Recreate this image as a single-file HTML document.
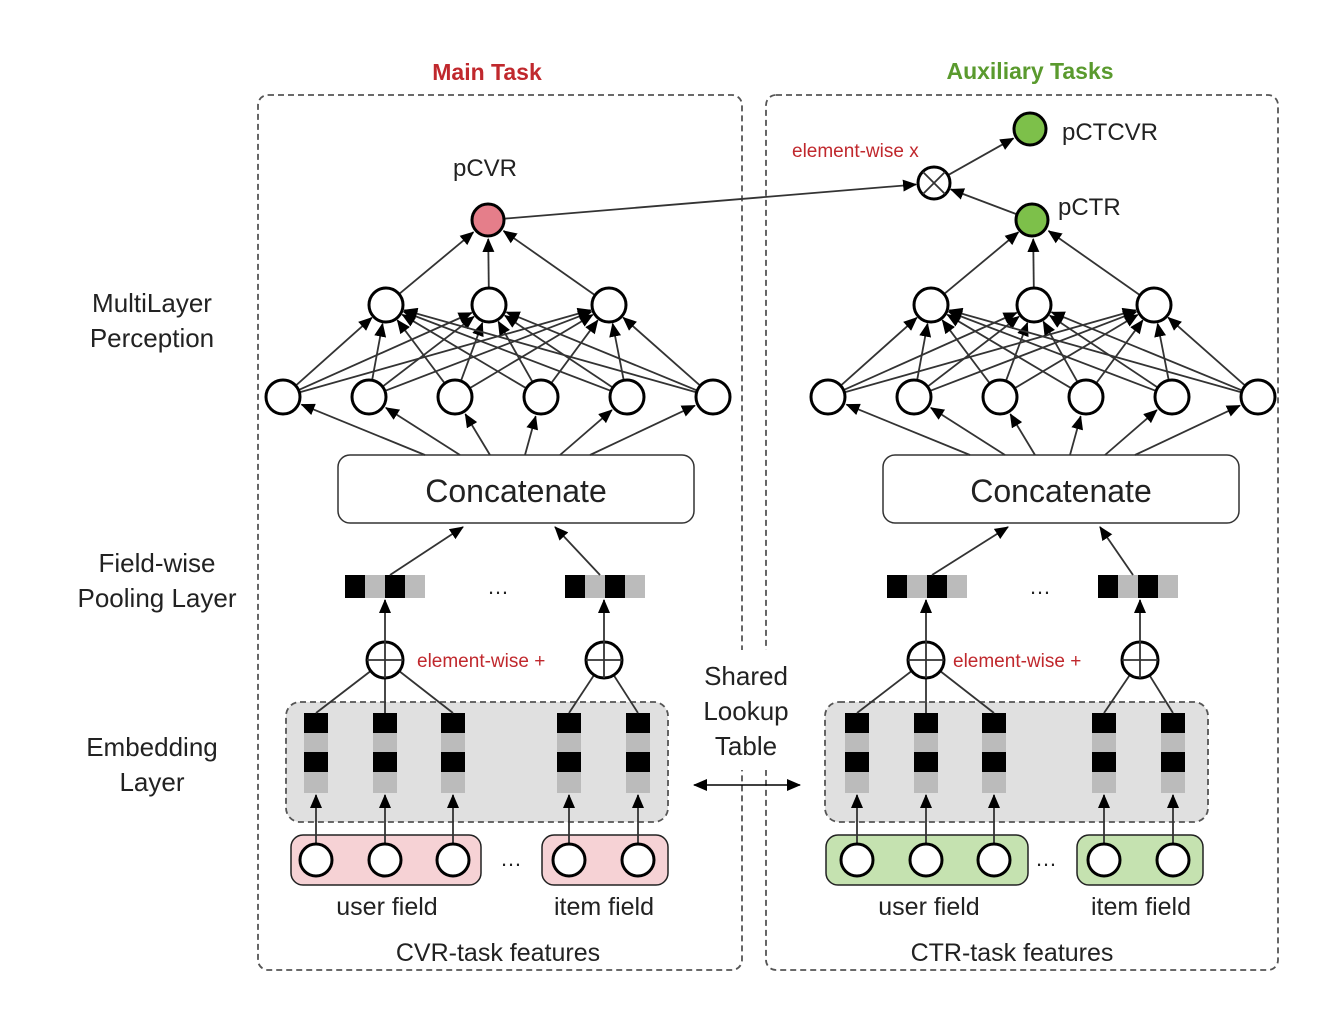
<!DOCTYPE html>
<html><head><meta charset="utf-8"><style>
html,body{margin:0;padding:0;background:#fff}
svg{display:block}
text{font-family:"Liberation Sans",sans-serif}
</style></head><body>
<svg id="s" width="1338" height="1032" viewBox="0 0 1338 1032" xmlns="http://www.w3.org/2000/svg">
<defs>
<marker id="a" markerWidth="14" markerHeight="12" refX="13" refY="6" orient="auto" markerUnits="userSpaceOnUse">
<path d="M0,0 L14,6 L0,12 z" fill="#000"/></marker>
<marker id="b" markerWidth="14" markerHeight="12" refX="1" refY="6" orient="auto" markerUnits="userSpaceOnUse">
<path d="M14,0 L0,6 L14,12 z" fill="#000"/></marker>
</defs>
<rect x="258" y="95" width="484" height="875" rx="10" fill="none" stroke="#555" stroke-width="1.8" stroke-dasharray="6,4"/>
<rect x="766" y="95" width="512" height="875" rx="10" fill="none" stroke="#555" stroke-width="1.8" stroke-dasharray="6,4"/>
<rect x="690" y="650" width="110" height="120" fill="#fff"/>
<text x="487" y="80" font-size="23" font-weight="bold" fill="#c0282d" text-anchor="middle">Main Task</text>
<text x="1030" y="79" font-size="23" font-weight="bold" fill="#5a9a2e" text-anchor="middle">Auxiliary Tasks</text>
<g font-size="26" fill="#222" text-anchor="middle">
<text x="152" y="312">MultiLayer</text><text x="152" y="347">Perception</text>
<text x="157" y="572">Field-wise</text><text x="157" y="607">Pooling Layer</text>
<text x="152" y="756">Embedding</text><text x="152" y="791">Layer</text>
<text x="746" y="685">Shared</text><text x="746" y="720">Lookup</text><text x="746" y="755">Table</text>
</g>
<g id="g"></g>
</svg>
<script>
var g=document.getElementById('g'),NS='http://www.w3.org/2000/svg';
function el(t,a,txt){var e=document.createElementNS(NS,t);for(var k in a)e.setAttribute(k,a[k]);if(txt)e.textContent=txt;g.appendChild(e);return e;}
function ar(x1,y1,x2,y2,r1,r2){var dx=x2-x1,dy=y2-y1,d=Math.hypot(dx,dy);r1=r1||0;r2=r2||0;
el('line',{x1:x1+dx*r1/d,y1:y1+dy*r1/d,x2:x2-dx*r2/d,y2:y2-dy*r2/d,stroke:'#333','stroke-width':1.8,'marker-end':'url(#a)'});}
function ln(x1,y1,x2,y2){el('line',{x1:x1,y1:y1,x2:x2,y2:y2,stroke:'#333','stroke-width':1.8});}
function circ(x,y,r,f){el('circle',{cx:x,cy:y,r:r,fill:f||'#fff',stroke:'#000','stroke-width':3});}
function txt(x,y,s,sz,c,an){el('text',{x:x,y:y,'font-size':sz,fill:c||'#222','text-anchor':an||'middle'},s);}
function side(o,c){
 var L1=[283,369,455,541,627,713].map(function(x){return x+o}),L2=[386,489,609].map(function(x){return x+o}),ox=488+o;
 el('rect',{x:c.eb[0],y:702,width:c.eb[1]-c.eb[0],height:120,rx:14,fill:'#e0e0e0',stroke:'#555','stroke-width':1.8,'stroke-dasharray':'6,4'});
 var cols=c.cols;
 cols.forEach(function(x){
  el('rect',{x:x-12,y:713,width:24,height:80,fill:'#bbb'});
  el('rect',{x:x-12,y:713,width:24,height:20,fill:'#000'});
  el('rect',{x:x-12,y:752,width:24,height:20,fill:'#000'});
 });
 el('rect',{x:c.ub[0],y:835,width:c.ub[1]-c.ub[0],height:50,rx:12,fill:c.fill,stroke:'#222','stroke-width':1.5});
 el('rect',{x:c.ib[0],y:835,width:c.ib[1]-c.ib[0],height:50,rx:12,fill:c.fill,stroke:'#222','stroke-width':1.5});
 cols.forEach(function(x){ar(x,844,x,795);circ(x,860,16);});
 txt(c.dots2,866,'…',22);
 txt(c.lab[0],915,'user field',25);txt(c.lab[1],915,'item field',25);
 txt(c.lab[2],961,c.name,25);
 var p1=c.p[0],p2=c.p[1];
 [cols[0],cols[1],cols[2]].forEach(function(x){ln(x,713,p1,660);});
 [cols[3],cols[4]].forEach(function(x){ln(x,713,p2,660);});
 [p1,p2].forEach(function(x){circ(x,660,18);ln(x-18,660,x+18,660);ln(x,642,x,678);ar(x,642,x,600);});
 txt(c.ew,667,'element-wise +',19,'#c0282d','start');
 c.pool.forEach(function(x){
  el('rect',{x:x,y:575,width:80,height:23,fill:'#bbb'});
  el('rect',{x:x,y:575,width:20,height:23,fill:'#000'});
  el('rect',{x:x+40,y:575,width:20,height:23,fill:'#000'});
 });
 txt(c.dots1,594,'…',22);
 ar(c.pool[0]+45,575,463+o,527);ar(c.pool[1]+35,575,555+o,527);
 el('rect',{x:338+o,y:455,width:356,height:68,rx:12,fill:'#fff',stroke:'#333','stroke-width':1.5});
 txt(516+o,502,'Concatenate',32);
 var sx=[425,460,490,525,560,590];
 L1.forEach(function(x,i){ar(sx[i]+o,455,x,397,0,20);});
 L1.forEach(function(a){L2.forEach(function(b){ar(a,397,b,305,17,19);});});
 L2.forEach(function(b){ar(b,305,ox,220,17,19);});
 L1.forEach(function(x){circ(x,397,17);});
 L2.forEach(function(x){circ(x,305,17);});
}
side(0,{eb:[286,668],cols:[316,385,453,569,638],ub:[291,481],ib:[542,668],fill:'#f6d2d5',dots2:511,lab:[387,604,498],name:'CVR-task features',p:[385,604],ew:417,pool:[345,565],dots1:498});
side(545,{eb:[825,1208],cols:[857,926,994,1104,1173],ub:[826,1028],ib:[1077,1203],fill:'#c5e2b0',dots2:1046,lab:[929,1141,1012],name:'CTR-task features',p:[926,1140],ew:953,pool:[887,1098],dots1:1040});
ar(488,220,934,183,16,18);
ar(1032,220,934,183,16,18);
ar(934,183,1030,129,16,19);
circ(488,220,16,'#e57e8a');
txt(485,176,'pCVR',24);
circ(1032,220,16,'#7dc04a');
txt(1058,215,'pCTR',24,'#222','start');
circ(1030,129,16,'#7dc04a');
txt(1062,140,'pCTCVR',24,'#222','start');
circ(934,183,16);
ln(923,172,945,194);ln(945,172,923,194);
txt(792,157,'element-wise x',19,'#c0282d','start');
el('line',{x1:694,y1:785,x2:800,y2:785,stroke:'#000','stroke-width':1.5,'marker-end':'url(#a)','marker-start':'url(#b)'});
</script>
</body></html>
